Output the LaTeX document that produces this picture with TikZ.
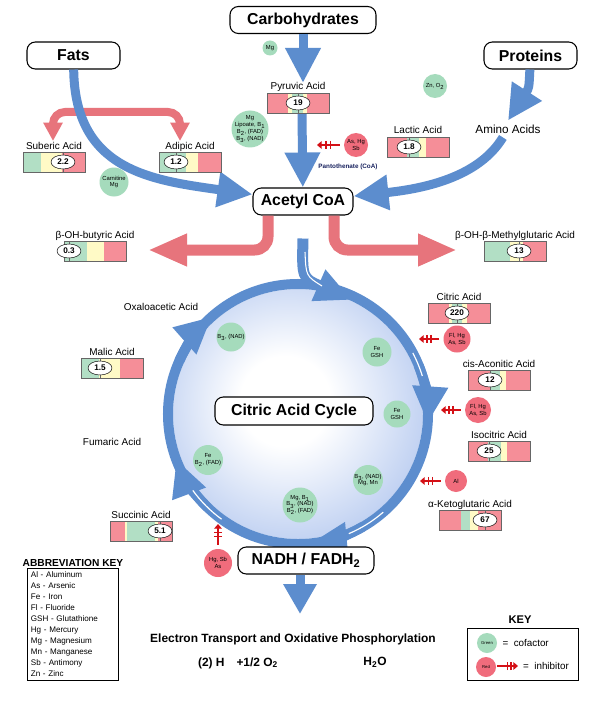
\documentclass[tikz,border=0pt]{standalone}
\usepackage{fontspec}
\setmainfont{Liberation Sans}
\usepackage{tikz}
\usetikzlibrary{positioning,arrows.meta,shapes.geometric,calc,decorations.markings}

\definecolor{flowblue}{RGB}{92,141,206}
\definecolor{flowpink}{RGB}{231,116,124}
\definecolor{bargreen}{RGB}{178,223,197}
\definecolor{baryellow}{RGB}{255,250,198}
\definecolor{barred}{RGB}{245,142,152}
\definecolor{cofgreen}{RGB}{165,219,188}
\definecolor{toxinred}{RGB}{240,108,124}
\definecolor{inhred}{RGB}{212,16,22}
\definecolor{spherelight}{RGB}{184,203,240}
\definecolor{sphereedge}{RGB}{112,150,214}
\definecolor{pantoblue}{RGB}{25,35,95}

\pgfdeclareradialshading{cyclesphere}{\pgfpoint{-3bp}{3bp}}{color(0bp)=(white); color(9bp)=(white); color(30bp)=(spherelight); color(46bp)=(sphereedge); color(60bp)=(sphereedge)}

\newlength{\pxu}
\setlength{\pxu}{0.03cm}

\newcommand{\acidbar}[7]{%
  \foreach \col/\xa/\xb in {#4}{\fill[\col] (\xa,#3) rectangle (\xb,#3+20);}
  \draw[bar edge] (#2,#3) rectangle (#2+62,#3+20);
  \draw[bar edge] (#5,#3) -- (#5,#3+20);
  \node[val oval] (#1-val) at (#5,#3+10) {#6};
  \node[acid label] (#1-lbl) at (#2+31,#3-3) {#7};
}

\begin{document}
\begin{tikzpicture}[
  x=0.03cm, y=-0.03cm,
  source/.style={draw, line width=0.9pt, rounded corners=0.25cm, fill=white, inner sep=0pt,
    minimum height=27*\pxu, font=\fontsize{13.5}{16}\selectfont\bfseries},
  blueflow/.style={draw=flowblue, line width=0.27cm, -{Triangle[length=1.05cm,width=1cm]}},
  pinkflow/.style={draw=flowpink, line width=0.33cm, rounded corners=0.4cm, -{Triangle[length=1.17cm,width=0.9cm]}},
  pinkfork/.style={draw=flowpink, line width=0.24cm, rounded corners=0.36cm,
    {Triangle[length=0.55cm,width=0.55cm]}-{Triangle[length=0.55cm,width=0.55cm]}},
  ring tip/.style={draw=flowblue, line width=0.3cm, -{Triangle[length=1.1cm,width=1cm]}},
  acid label/.style={anchor=base, inner sep=0pt, font=\fontsize{8.5}{10}\selectfont},
  plain label/.style={inner sep=1pt, font=\fontsize{8.5}{10}\selectfont},
  val oval/.style={ellipse, draw, fill=white, inner sep=0pt, minimum width=24*\pxu, minimum height=14*\pxu,
    font=\fontsize{7}{8}\selectfont\bfseries},
  bar edge/.style={draw=black!60, line width=0.5pt},
  cofactor/.style={circle, fill=cofgreen, inner sep=-2pt, align=center, font=\fontsize{5}{5.8}\selectfont},
  toxin/.style={circle, fill=toxinred, inner sep=-2pt, align=center, font=\fontsize{5}{5.8}\selectfont},
  inhib/.style={draw=inhred, line width=1.5pt, -{Triangle[length=4pt,width=6.5pt]}, shorten <=4*\pxu,
    postaction={decorate, decoration={markings,
      mark=at position 0.5 with {\draw[inhred, line width=1.3pt, -, shorten <=0pt] (0,-3.6pt) -- (0,3.6pt);},
      mark=at position 0.66 with {\draw[inhred, line width=1.3pt, -, shorten <=0pt] (0,-3.6pt) -- (0,3.6pt);}}}}
]
\path[use as bounding box, fill=white] (0,0) rectangle (596,704);

\coordinate (hub) at (298,414);
\shade[shading=cyclesphere] (hub) circle [radius=3.75cm];
\draw[flowblue, line width=0.3cm] (hub) circle [radius=3.9cm];
\foreach \a/\b in {22/-4, -60/-84.6, 226/200.5, 156/131.5}
  \draw[ring tip] (hub) ++(\a:3.9cm) arc[start angle=\a, end angle=\b, radius=3.9cm];
\foreach \a/\b in {28/17, -49/-67, 216/234}
  \draw[white, line width=1pt] (hub) ++(\a:3.9cm) arc[start angle=\a, end angle=\b, radius=3.9cm];

\node[source, minimum width=146*\pxu] (carb) at (303,20) {Carbohydrates};
\node[source, minimum width=93*\pxu] (fats) at (73.5,55.5) {Fats};
\node[source, minimum width=93*\pxu] (proteins) at (530.5,55.5) {Proteins};
\node[source, minimum width=100*\pxu] (acetyl) at (303,201.5) {Acetyl CoA};
\node[source, minimum width=158*\pxu, minimum height=28*\pxu] (cycle) at (294,411) {Citric Acid Cycle};
\node[source, minimum width=136*\pxu] (nadh) at (306,560.5) {NADH / FADH\textsubscript{2}};
\node[font=\fontsize{10}{12}\selectfont] (amino) at (508,129) {Amino Acids};

\coordinate (cyclein) at (352,300);
\draw[flowblue, line width=0.33cm, -{Triangle[length=1.1cm,width=0.95cm]}]
  ([yshift=-23*\pxu]acetyl.south) .. controls (302,278) .. (cyclein);
\draw[white, line width=0.9pt] (305,252) .. controls (306,276) .. (322,286);

\coordinate (suberin) at (53,141);
\coordinate (adipin) at (180,141);
\coordinate (butyrin) at (148,250);
\coordinate (hmgin) at (457,250);
\draw[pinkfork] (suberin) -- ++(0,-29) -| (adipin);
\draw[pinkflow] ([xshift=-35*\pxu]acetyl.south) |- (butyrin);
\draw[pinkflow] ([xshift=31*\pxu]acetyl.south) |- (hmgin);

\coordinate (pyrin) at (303,83);
\coordinate (pyrout) at (302,114);
\coordinate (pyrright) at (335,100);
\coordinate (etcin) at (300,614);
\draw[blueflow] (carb) -- (pyrin);
\draw[blueflow] (pyrout) -- (acetyl);
\draw[blueflow] (fats) .. controls (75,170) and (150,180) .. (acetyl);
\draw[blueflow] (proteins) .. controls (529,88) .. (amino.north);
\draw[blueflow] (amino) .. controls (480,175) and (430,188) .. (acetyl);
\draw[blueflow, -{Triangle[length=0.9cm,width=0.95cm]}] ([xshift=-6*\pxu]nadh.south) -- (etcin);

\acidbar{suberic}{23}{152}{bargreen/23/41, baryellow/41/62, barred/62/85}{63}{2.2}{Suberic Acid}
\acidbar{adipic}{159}{152}{bargreen/159/186, baryellow/186/198, barred/198/221}{176}{1.2}{Adipic Acid}
\acidbar{pyruvic}{267}{93}{barred/267/288, baryellow/288/292, bargreen/292/303, baryellow/303/307, barred/307/329}{298}{19}{Pyruvic Acid}
\acidbar{lactic}{387}{137}{barred/387/407, bargreen/407/419, baryellow/419/426, barred/426/449}{409}{1.8}{Lactic Acid}
\acidbar{butyric}{64}{241}{bargreen/64/87, baryellow/87/104, barred/104/126}{69}{0.3}{β-OH-butyric Acid}
\acidbar{hmg}{484}{241}{bargreen/484/510, baryellow/510/523, barred/523/546}{519}{13}{β-OH-β-Methylglutaric Acid}
\acidbar{citric}{428}{303}{barred/428/449, baryellow/449/452, bargreen/452/462, baryellow/462/467, barred/467/490}{457}{220}{Citric Acid}
\acidbar{cisaconitic}{468}{370}{barred/468/490, bargreen/490/500, baryellow/500/506, barred/506/530}{490}{12}{cis-Aconitic Acid}
\acidbar{isocitric}{468}{441}{barred/468/488, bargreen/488/501, baryellow/501/507, barred/507/530}{489}{25}{Isocitric Acid}
\acidbar{ketoglutaric}{439}{510}{barred/439/461, bargreen/461/470, baryellow/470/478, barred/478/501}{485}{67}{α-Ketoglutaric Acid}
\acidbar{malic}{81}{358}{bargreen/81/99, baryellow/99/120, barred/120/143}{100}{1.5}{Malic Acid}
\acidbar{succinic}{110}{521}{barred/110/125, baryellow/125/127, bargreen/127/155, baryellow/155/158, barred/158/172}{160}{5.1}{Succinic Acid}

\node[cofactor, minimum size=15*\pxu] (cofmg) at (270,48) {Mg};
\node[cofactor, minimum size=37*\pxu] (cofpdh) at (250,129) {Mg\\Lipoate, B\textsubscript{1}\\B\textsubscript{2}, (FAD)\\B\textsubscript{3}, (NAD)};
\node[cofactor, minimum size=29*\pxu] (cofcarn) at (114,182) {Carnitine\\Mg};
\node[cofactor, minimum size=24*\pxu] (cofzn) at (435,86) {Zn, O\textsubscript{2}};
\node[cofactor, minimum size=29*\pxu] (cofmdh) at (231,337) {B\textsubscript{3}, (NAD)};
\node[cofactor, minimum size=29*\pxu] (cofaco) at (377,352) {Fe\\GSH};
\node[cofactor, minimum size=27*\pxu] (cofaco2) at (397,414) {Fe\\GSH};
\node[cofactor, minimum size=30*\pxu] (cofidh) at (368,480) {B\textsubscript{3}, (NAD)\\Mg, Mn};
\node[cofactor, minimum size=35*\pxu] (cofkgdh) at (300,505) {Mg, B\textsubscript{1}\\B\textsubscript{3}, (NAD)\\B\textsubscript{2}, (FAD)};
\node[cofactor, minimum size=30*\pxu] (cofsdh) at (208,460) {Fe\\B\textsubscript{2}, (FAD)};

\node[toxin, minimum size=24*\pxu] (toxpyr) at (356,145) {As, Hg\\Sb};
\node[toxin, minimum size=27*\pxu] (toxcit) at (457,339) {Fl, Hg\\As, Sb};
\node[toxin, minimum size=26*\pxu] (toxaco) at (478,410) {Fl, Hg\\As, Sb};
\node[toxin, minimum size=22*\pxu] (toxidh) at (456,481) {Al};
\node[toxin, minimum size=28*\pxu] (toxsuc) at (218,563) {Hg, Sb\\As};

\coordinate (pyrblock) at (317,145);
\coordinate (citblock) at (419,339);
\coordinate (acoblock) at (441,410);
\coordinate (idhblock) at (420,481);
\coordinate (sucblock) at (218,524);
\draw[inhib] (toxpyr) -- (pyrblock);
\draw[inhib] (toxcit) -- (citblock);
\draw[inhib] (toxaco) -- (acoblock);
\draw[inhib] (toxidh) -- (idhblock);
\draw[inhib] (toxsuc) -- (sucblock);

\node[font=\fontsize{5.4}{6}\selectfont\bfseries, text=pantoblue] (panto) at (348,167) {Pantothenate (CoA)};
\node[plain label] (oxalo) at (161,307) {Oxaloacetic Acid};
\node[plain label] (fumaric) at (112,442) {Fumaric Acid};

\node[font=\fontsize{10.2}{12}\selectfont\bfseries] (etc) at (293,639) {Electron Transport and Oxidative Phosphorylation};
\node[font=\fontsize{10.2}{12}\selectfont\bfseries] (etcleft) at (238,663) {(2) H\quad+1/2 O\textsubscript{2}};
\node[font=\fontsize{10.2}{12}\selectfont\bfseries] (water) at (375,662) {H\textsubscript{2}O};

\node[font=\fontsize{8.7}{10}\selectfont\bfseries] (abbrtitle) at (73,563) {ABBREVIATION KEY};
\node[draw, line width=0.6pt, anchor=north west, text width=2.52cm, align=left, inner xsep=3pt, inner ysep=3pt,
  font=\fontsize{6.9}{9.35}\selectfont] (abbrbox) at (27,568)
  {Al - Aluminum\\As - Arsenic\\Fe - Iron\\Fl - Fluoride\\GSH - Glutathione\\Hg - Mercury\\Mg - Magnesium\\Mn - Manganese\\Sb - Antimony\\Zn - Zinc};

\node[font=\fontsize{9.5}{11}\selectfont\bfseries] (keytitle) at (520,620) {KEY};
\node[draw, line width=0.6pt, minimum width=111*\pxu, minimum height=52*\pxu, inner sep=0pt] (keybox) at (522.5,654) {};
\node[cofactor, minimum size=20*\pxu, font=\fontsize{3.6}{4}\selectfont] (keygreen) at (487,643) {Green};
\node[toxin, minimum size=20*\pxu, font=\fontsize{3.6}{4}\selectfont] (keyred) at (486,667) {Red};
\node[right=1pt of keygreen, font=\fontsize{8.4}{10}\selectfont] (keycof) {=\ \ cofactor};
\coordinate (keyinhA) at (497,666);
\coordinate (keyinhB) at (518,666);
\draw[inhib, shorten <=0pt] (keyinhA) -- (keyinhB);
\node[anchor=west, font=\fontsize{8.4}{10}\selectfont] (keyinh) at (519,666) {=\ \ inhibitor};
\end{tikzpicture}
\end{document}
